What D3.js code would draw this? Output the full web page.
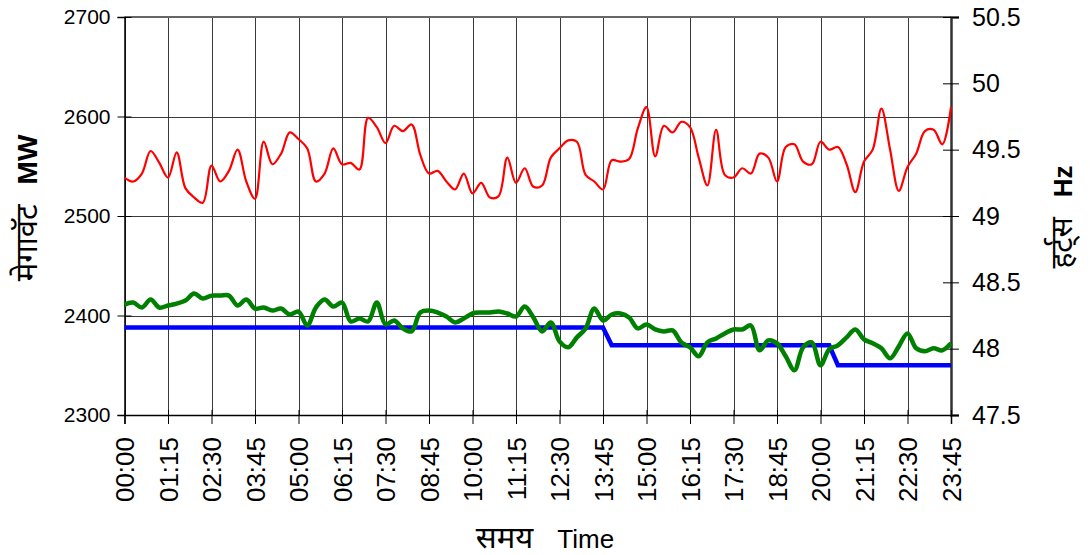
<!DOCTYPE html>
<html>

<head>
	<title>MW / Hz</title>
	<meta charset="utf-8" />
	<script src="https://d3js.org/d3.v7.min.js"></script>
	<style>
		body,
		html {
			margin: 0;
			background: #fff;
		}

		text {
			font-family: "Liberation Sans", Arial, "Noto Sans", sans-serif;
			fill: #000;
		}
	</style>
</head>

<body>
	<svg id="chart" width="1090" height="555"></svg>
	<script>
		// 15-minute slots, 00:00 .. 23:45
		var times = d3.range(96).map(function (i) {
			return d3.format("02")(Math.floor(i / 4)) + ":" + d3.format("02")((i % 4) * 15);
		});

		var tickLabels = ["00:00", "01:15", "02:30", "03:45", "05:00", "06:15", "07:30", "08:45", "10:00", "11:15",
			"12:30", "13:45", "15:00", "16:15", "17:30", "18:45", "20:00", "21:15", "22:30", "23:45"];

		var mwTicks = [2300, 2400, 2500, 2600, 2700];
		var hzTicks = [47.5, 48, 48.5, 49, 49.5, 50, 50.5];

		// frequency (Hz, right axis)
		var frequency = [49.29, 49.26, 49.32, 49.49, 49.40, 49.29, 49.48, 49.21, 49.14, 49.10,
			49.38, 49.26, 49.34, 49.50, 49.26, 49.13, 49.56, 49.39, 49.47, 49.63,
			49.58, 49.51, 49.26, 49.32, 49.51, 49.39, 49.40, 49.35, 49.74, 49.67,
			49.55, 49.68, 49.64, 49.69, 49.46, 49.32, 49.34, 49.26, 49.20, 49.32,
			49.17, 49.25, 49.14, 49.15, 49.44, 49.25, 49.36, 49.22, 49.23, 49.44,
			49.51, 49.57, 49.56, 49.31, 49.26, 49.20, 49.42, 49.41, 49.43, 49.66,
			49.82, 49.45, 49.68, 49.63, 49.71, 49.67, 49.44, 49.23, 49.65, 49.31,
			49.29, 49.36, 49.32, 49.47, 49.44, 49.26, 49.52, 49.54, 49.41, 49.39,
			49.56, 49.50, 49.52, 49.39, 49.18, 49.41, 49.50, 49.81, 49.50, 49.19,
			49.37, 49.47, 49.64, 49.65, 49.54, 49.82];

		// actual load (MW, left axis)
		var actualMW = [2411, 2413, 2408, 2416, 2408, 2410, 2412, 2415, 2422, 2417,
			2420, 2420, 2420, 2410, 2416, 2407, 2408, 2405, 2407, 2401,
			2404, 2390, 2408, 2416, 2409, 2413, 2394, 2397, 2394, 2413,
			2391, 2395, 2387, 2384, 2403, 2405, 2403, 2399, 2393, 2397,
			2402, 2403, 2403, 2404, 2402, 2399, 2409, 2398, 2384, 2393,
			2374, 2368, 2378, 2387, 2407, 2395, 2401, 2402, 2398, 2387,
			2391, 2386, 2384, 2385, 2373, 2368, 2359, 2373, 2377, 2382,
			2386, 2386, 2390, 2365, 2375, 2372, 2359, 2345, 2368, 2373,
			2350, 2366, 2370, 2378, 2386, 2376, 2372, 2367, 2357, 2369,
			2382, 2367, 2364, 2367, 2365, 2372];

		// scheduled load (MW, left axis)
		var scheduleMW = [2388, 2388, 2388, 2388, 2388, 2388, 2388, 2388, 2388, 2388,
			2388, 2388, 2388, 2388, 2388, 2388, 2388, 2388, 2388, 2388,
			2388, 2388, 2388, 2388, 2388, 2388, 2388, 2388, 2388, 2388,
			2388, 2388, 2388, 2388, 2388, 2388, 2388, 2388, 2388, 2388,
			2388, 2388, 2388, 2388, 2388, 2388, 2388, 2388, 2388, 2388,
			2388, 2388, 2388, 2388, 2388, 2388, 2370, 2370, 2370, 2370,
			2370, 2370, 2370, 2370, 2370, 2370, 2370, 2370, 2370, 2370,
			2370, 2370, 2370, 2370, 2370, 2370, 2370, 2370, 2370, 2370,
			2370, 2370, 2350, 2350, 2350, 2350, 2350, 2350, 2350, 2350,
			2350, 2350, 2350, 2350, 2350, 2350];

		var svg = d3.select("#chart");

		var plotL = 124.5, plotR = 951, plotT = 17, plotB = 415;

		var x = d3.scalePoint().domain(times).range([plotL, plotR]);
		var yMW = d3.scaleLinear().domain([2300, 2700]).range([plotB, plotT]);
		var yHz = d3.scaleLinear().domain([47.5, 50.5]).range([plotB, plotT]);

		// grid
		var grid = svg.append("g").attr("stroke", "#3a3a3a").attr("stroke-width", 1);
		grid.selectAll("line.v")
			.data(tickLabels)
			.enter().append("line")
			.attr("x1", function (d) { return Math.round(x(d)) + 0.5; })
			.attr("x2", function (d) { return Math.round(x(d)) + 0.5; })
			.attr("y1", plotT)
			.attr("y2", plotB);
		grid.selectAll("line.h")
			.data(mwTicks)
			.enter().append("line")
			.attr("x1", plotL)
			.attr("x2", plotR)
			.attr("y1", function (d) { return Math.round(yMW(d)) + 0.5; })
			.attr("y2", function (d) { return Math.round(yMW(d)) + 0.5; });

		svg.append("line")
			.attr("x1", plotL).attr("x2", plotR)
			.attr("y1", plotT).attr("y2", plotT)
			.attr("stroke", "#666").attr("stroke-width", 2);

		// left axis
		var axL = svg.append("g")
			.attr("transform", "translate(" + plotL + ",0)")
			.call(d3.axisLeft(yMW).tickValues(mwTicks).tickSize(7).tickPadding(7).tickFormat(d3.format("d")));
		axL.selectAll(".tick line").attr("x1", 7);
		axL.select(".domain").attr("stroke", "#000").attr("stroke-width", 1.5);
		axL.selectAll("text").style("font-size", "21px");

		// right axis
		var axR = svg.append("g")
			.attr("transform", "translate(" + plotR + ",0)")
			.call(d3.axisRight(yHz).tickValues(hzTicks).tickSize(8).tickPadding(13).tickFormat(d3.format("")));
		axR.selectAll(".tick line").attr("x1", -8);
		axR.select(".domain").attr("stroke", "#333").attr("stroke-width", 2.5);
		axR.selectAll("text").style("font-size", "25px");

		// bottom axis
		var axB = svg.append("g")
			.attr("transform", "translate(0," + plotB + ")")
			.call(d3.axisBottom(x).tickValues(tickLabels).tickSize(9).tickPadding(0));
		axB.selectAll(".tick line").attr("y1", -5);
		axB.select(".domain").attr("stroke", "#000").attr("stroke-width", 1.5);
		axB.selectAll("text")
			.style("font-size", "26px")
			.attr("text-anchor", "end")
			.attr("transform", "rotate(-90)")
			.attr("x", -22)
			.attr("y", 0)
			.attr("dy", "0.36em");

		// series
		var lineHz = d3.line()
			.x(function (d, i) { return x(times[i]); })
			.y(function (d) { return yHz(d); })
			.curve(d3.curveCatmullRom.alpha(0.5));

		var lineMW = d3.line()
			.x(function (d, i) { return x(times[i]); })
			.y(function (d) { return yMW(d); })
			.curve(d3.curveCatmullRom.alpha(0.5));

		var lineStep = d3.line()
			.x(function (d, i) { return x(times[i]); })
			.y(function (d) { return yMW(d); });

		svg.append("path").datum(scheduleMW)
			.attr("d", lineStep)
			.attr("fill", "none").attr("stroke", "#0000ff").attr("stroke-width", 4.5);

		svg.append("path").datum(actualMW)
			.attr("d", lineMW)
			.attr("fill", "none").attr("stroke", "#008000").attr("stroke-width", 4.5)
			.attr("stroke-linejoin", "round");

		svg.append("path").datum(frequency)
			.attr("d", lineHz)
			.attr("fill", "none").attr("stroke", "#ff0000").attr("stroke-width", 2.2)
			.attr("stroke-linejoin", "round");

		// titles
		var tl = svg.append("text")
			.attr("transform", "translate(37,208) rotate(-90)")
			.attr("text-anchor", "middle");
		tl.append("tspan").style("font-size", "31px").text("मेगावॅट");
		tl.append("tspan").style("font-size", "28px").style("font-weight", "bold").attr("dx", 20).text("MW");

		var tr = svg.append("text")
			.attr("transform", "translate(1072,217) rotate(-90)")
			.attr("text-anchor", "middle");
		tr.append("tspan").style("font-size", "30px").text("हर्ट्स");
		tr.append("tspan").style("font-size", "26px").style("font-weight", "bold").attr("dx", 20).text("Hz");

		var tb = svg.append("text")
			.attr("x", 545)
			.attr("y", 548)
			.attr("text-anchor", "middle");
		tb.append("tspan").style("font-size", "31px").text("समय");
		tb.append("tspan").style("font-size", "26px").attr("dx", 24).text("Time");
	</script>
</body>

</html>
